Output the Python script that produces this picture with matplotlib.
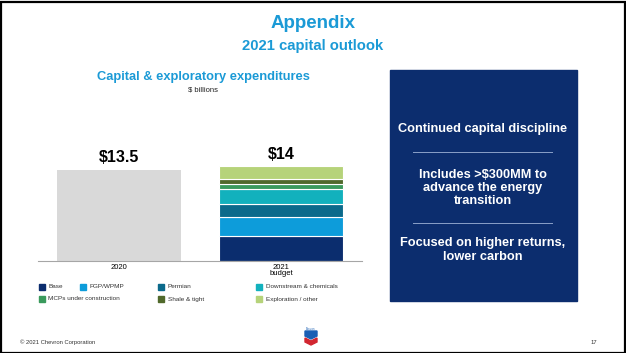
import matplotlib
matplotlib.use("Agg")
import matplotlib.pyplot as plt
from matplotlib.patches import Rectangle, Polygon

plt.rcParams['font.family'] = ['Liberation Sans', 'DejaVu Sans']

# data ($ billions)
years = ["2020", "2021\nbudget"]
total_2020 = 13.5
segments = ["Base", "FGP/WPMP", "Permian", "Downstream & chemicals",
            "MCPs under construction", "Shale & tight", "Exploration / other"]
values_2021 = [3.7, 2.8, 2.0, 2.1, 0.8, 0.7, 1.9]
totals_lbl = ["$13.5", "$14"]
seg_colors = ["#0b2d6e", "#0d9cda", "#0b6a8b", "#12b1bd",
              "#3a9a5c", "#50692b", "#b6d37a"]
gray = "#d9d9d9"
blue_title = "#1b9ad6"
navy = "#0c2d6e"

W, H = 626, 353
fig = plt.figure(figsize=(W / 100, H / 100), dpi=100)

def fx(px):
    return px / W

def fy(py):
    return 1 - py / H

# page border
fig.patches.append(Rectangle((0.5 / W, 0.5 / H), 1 - 2 / W, 1 - 2 / H,
                             transform=fig.transFigure, fill=False,
                             edgecolor="black", linewidth=1.6))

# titles
fig.text(fx(313), fy(24), "Appendix", ha="center", va="center",
         fontsize=13.5, fontweight="bold", color=blue_title)
fig.text(fx(313), fy(46), "2021 capital outlook", ha="center", va="center",
         fontsize=10.7, fontweight="bold", color=blue_title)
fig.text(fx(203), fy(77), "Capital & exploratory expenditures", ha="center",
         va="center", fontsize=9.3, fontweight="bold", color=blue_title)
fig.text(fx(203), fy(90), "$ billions", ha="center", va="center",
         fontsize=5.5, color="#222222")

# bar chart
ax_h = 135
ax = fig.add_axes([fx(38), fy(261), fx(362) - fx(38), ax_h / H])
ax.set_xlim(-0.5, 1.5)
ax.set_ylim(0, 14 / 94.7 * ax_h)
bw = 0.765
ax.bar(0, total_2020, width=bw, color=gray)
bottom = 0
for v, c in zip(values_2021, seg_colors):
    ax.bar(1, v, width=bw, bottom=bottom, color=c, edgecolor="white",
           linewidth=0.8)
    bottom += v
for i, (t, lbl) in enumerate(zip([total_2020, bottom], totals_lbl)):
    ax.text(i, t + 0.7, lbl, ha="center", va="bottom", fontsize=11.5,
            fontweight="bold", color="black")
for s in ["top", "right", "left"]:
    ax.spines[s].set_visible(False)
ax.spines["bottom"].set_color("#a6a6a6")
ax.spines["bottom"].set_linewidth(0.8)
ax.set_yticks([])
ax.set_xticks([0, 1])
ax.set_xticklabels(years, fontsize=5.5, linespacing=0.9)
ax.tick_params(axis="x", length=0, pad=2)

# legend (manual, 4 columns)
leg_pos = [(42, 287), (83, 287), (161, 287), (259, 287),
           (42, 299), (161, 299), (259, 299)]
for name, c, (lx, ly) in zip(segments, seg_colors, leg_pos):
    fig.patches.append(Rectangle((fx(lx - 3), fy(ly + 3)), 6 / W, 6 / H,
                                 transform=fig.transFigure, color=c))
    fig.text(fx(lx + 6.5), fy(ly), name, ha="left", va="center",
             fontsize=4.6, color="#333333")

# navy box on right
fig.patches.append(Rectangle((fx(390), fy(301)), (577 - 390) / W,
                             (301 - 70) / H, transform=fig.transFigure,
                             color=navy))
bx = fx(483)
fig.text(bx, fy(129), "Continued capital discipline", ha="center",
         va="center", fontsize=9.2, fontweight="bold", color="white")
fig.text(bx, fy(188), "Includes >$300MM to\nadvance the energy\ntransition",
         ha="center", va="center", fontsize=9.2, fontweight="bold",
         color="white", linespacing=1.12)
fig.text(bx, fy(250), "Focused on higher returns,\nlower carbon",
         ha="center", va="center", fontsize=9.2, fontweight="bold",
         color="white", linespacing=1.12)
for ly in [152, 223]:
    fig.add_artist(plt.Line2D([fx(413), fx(552)], [fy(ly), fy(ly)],
                              color="#8aa0c8", linewidth=0.7))

# footer
fig.text(fx(20), fy(342), "\u00a9 2021 Chevron Corporation", ha="left",
         va="center", fontsize=4.2, color="#333333")
fig.text(fx(594), fy(342), "17", ha="center", va="center", fontsize=4.2,
         color="#333333")

# small logo
lx0, lx1 = 305, 317
fig.patches.append(Polygon([(fx(lx0), fy(331)), (fx(lx1), fy(331)),
                            (fx(lx1), fy(336)), (fx(311), fy(339)),
                            (fx(lx0), fy(336))],
                           transform=fig.transFigure, color="#1a5fb4"))
fig.patches.append(Polygon([(fx(lx0), fy(338)), (fx(311), fy(341)),
                            (fx(lx1), fy(338)), (fx(lx1), fy(342)),
                            (fx(311), fy(345)), (fx(lx0), fy(342))],
                           transform=fig.transFigure, color="#d22630"))
fig.text(fx(311), fy(328.5), "Chevron", ha="center", va="center",
         fontsize=1.8, color="#1a5fb4")

fig.savefig("out.png", dpi=100)
